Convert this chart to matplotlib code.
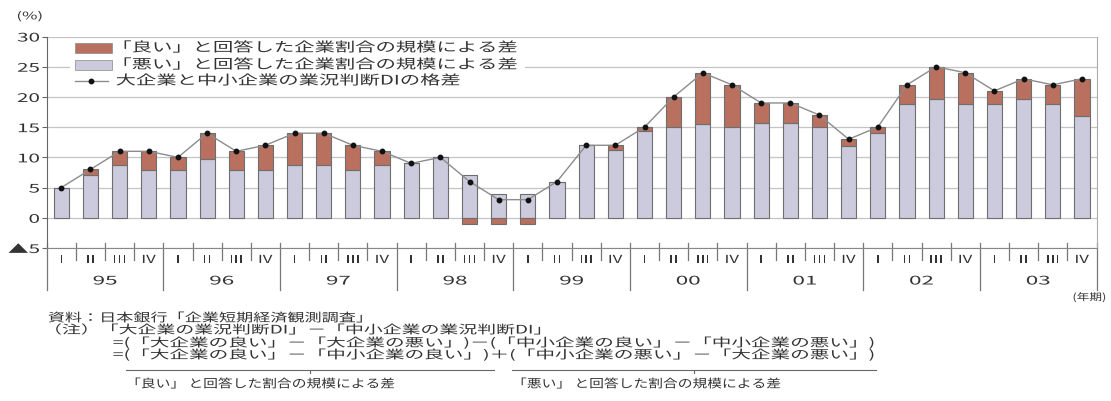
import numpy as np
import matplotlib
matplotlib.use("Agg")
import matplotlib.pyplot as plt
import matplotlib.patheffects as pe
from matplotlib.patches import Rectangle
from matplotlib.lines import Line2D
from matplotlib.transforms import Affine2D, blended_transform_factory

plt.rcParams['font.family'] = ['Noto Sans CJK JP', 'DejaVu Sans']

years = ['95', '96', '97', '98', '99', '00', '01', '02', '03']
quarters = ['I', 'II', 'III', 'IV']

# 「悪い」と回答した企業割合の規模による差 (%pt)
bad_gap = [5, 7, 8.7, 7.9, 7.9, 9.8, 7.9, 7.9, 8.7, 8.7, 7.9, 8.7,
           9, 10, 7, 4, 4, 6, 12, 11.2, 14.3, 15, 15.6, 15,
           15.7, 15.7, 15, 11.8, 14, 18.8, 19.7, 18.8, 18.8, 19.7, 18.8, 16.8]
# 「良い」と回答した企業割合の規模による差 (%pt)
good_gap = [0, 1, 2.3, 3.1, 2.1, 4.2, 3.1, 4.1, 5.3, 5.3, 4.1, 2.3,
            0, 0, -1, -1, -1, 0, 0, 0.8, 0.7, 5, 8.4, 7,
            3.3, 3.3, 2, 1.2, 1, 3.2, 5.3, 5.2, 2.2, 3.3, 3.2, 6.2]

yticks = [-5, 0, 5, 10, 15, 20, 25, 30]
ytick_labels = ['▲5', '0', '5', '10', '15', '20', '25', '30']

legend_labels = ['「良い」と回答した企業割合の規模による差',
                 '「悪い」と回答した企業割合の規模による差',
                 '大企業と中小企業の業況判断DIの格差']

notes = ['資料：日本銀行「企業短期経済観測調査」',
         '（注）「大企業の業況判断DI」－「中小企業の業況判断DI」',
         '=(「大企業の良い」－「大企業の悪い」)－(「中小企業の良い」－「中小企業の悪い」)',
         '=(「大企業の良い」－「中小企業の良い」)＋(「中小企業の悪い」－「大企業の悪い」)']
brace_labels = ['「良い」 と回答した割合の規模による差',
                '「悪い」 と回答した割合の規模による差']

RED = '#b9705f'
GRAY = '#cbcbdd'
EDGE = '#6e6e6e'

W, H = 1111, 401


class Stretch(pe.AbstractPathEffect):
    """Widen glyphs horizontally, keeping the left, centre or right edge fixed."""

    def __init__(self, sx, anchor='left'):
        super().__init__()
        self.sx = sx
        self.anchor = anchor

    def draw_path(self, renderer, gc, tpath, affine, rgbFace=None):
        ext = tpath.get_extents()
        ref = {'left': ext.x0, 'center': (ext.x0 + ext.x1) / 2,
               'right': ext.x1}[self.anchor]
        cx = affine.transform((ref, 0))[0]
        wide = affine + Affine2D().translate(-cx, 0).scale(self.sx, 1).translate(cx, 0)
        renderer.draw_path(gc, tpath, Affine2D(wide.get_matrix()), rgbFace)


def fx(x):
    return x / W


def fy(y):
    return 1 - y / H


def put_text(x, y, s, size, sx, ha='left', **kw):
    fig.text(fx(x), fy(y), s, fontsize=size, ha=ha, va='center',
             path_effects=[Stretch(sx, ha)], **kw)


fig = plt.figure(figsize=(W / 100, H / 100), dpi=100)
ax = fig.add_axes([fx(46.7), fy(248), (1096.5 - 46.7) / W, (248 - 36.5) / H])

x = np.arange(len(bad_gap))
bad = np.array(bad_gap)
good = np.array(good_gap)
di_gap = bad + good

ax.bar(x, bad, width=0.52, color=GRAY, edgecolor=EDGE, linewidth=0.8, zorder=2)
ax.bar(x, good, width=0.52, bottom=np.where(good >= 0, bad, 0),
       color=RED, edgecolor=EDGE, linewidth=0.8, zorder=2)
ax.plot(x, di_gap, color='#8c8c8c', lw=1.0, zorder=3)
ax.plot(x, di_gap, 'o', ms=3.2, color='#111111', zorder=4)

ax.set_xlim(-0.5, len(x) - 0.5)
ax.set_ylim(-5, 30)
ax.set_xticks([])
ax.set_yticks(yticks)
ax.set_yticklabels(ytick_labels, fontsize=8.5, color='#333333')
for t in ax.get_yticklabels():
    t.set_path_effects([Stretch(1.75, 'right')])
ax.tick_params(axis='y', direction='out', length=3.6, width=0.8,
               color='#666666', pad=1.5)
ax.grid(axis='y', color='#c4c4c4', lw=0.9, zorder=0)
ax.spines['top'].set_visible(False)
ax.spines['left'].set_color('#666666')
ax.spines['bottom'].set_color('#888888')
ax.spines['right'].set_color('#aaaaaa')

# category axis below the plot: quarter ticks, year dividers and labels
trans = blended_transform_factory(ax.transData, fig.transFigure)
for i, b in enumerate(np.arange(-0.5, len(x), 1.0)):
    bottom = fy(290) if i % 4 == 0 else fy(260)
    ax.add_line(Line2D([b, b], [bottom, fy(243)], transform=trans,
                       color='#777777', lw=0.9, clip_on=False))
for i in x:
    ax.text(i, fy(260), quarters[i % 4], transform=trans, ha='center',
            va='center', fontsize=8, color='#333333',
            path_effects=[Stretch(1.5, 'center')])
for j, yr in enumerate(years):
    ax.text(4 * j + 1.5, fy(281), yr, transform=trans, ha='center',
            va='center', fontsize=8.5, color='#333333',
            path_effects=[Stretch(1.9, 'center')])

put_text(17, 16, '(%)', 7.5, 1.6, color='#333333')
put_text(1106, 297, '(年期)', 7, 1.3, ha='right', color='#333333')

# legend
fig.add_artist(Rectangle((fx(70), fy(90)), 455 / W, 50 / H, transform=fig.transFigure,
                         facecolor='white', edgecolor='none', zorder=1))
rows = [48, 65, 81]
for y0, col in zip(rows[:2], [RED, GRAY]):
    fig.add_artist(Rectangle((fx(75), fy(y0 + 5)), 37 / W, 10 / H,
                             transform=fig.transFigure, facecolor=col,
                             edgecolor='#888888', lw=0.5, zorder=2))
fig.add_artist(Line2D([fx(75), fx(108)], [fy(rows[2]), fy(rows[2])],
                      transform=fig.transFigure, color='#8c8c8c', lw=1.0, zorder=2))
fig.add_artist(Line2D([fx(91)], [fy(rows[2])], transform=fig.transFigure,
                      marker='o', ms=3.2, color='#111111', zorder=3))
for y0, s in zip(rows, legend_labels):
    put_text(116, y0, s, 9.5, 1.54, color='#333333', zorder=3)

# notes under the chart
put_text(48, 318, notes[0], 8.5, 1.45, color='#333333')
put_text(48, 330, notes[1], 8.5, 1.6, color='#333333')
put_text(113, 343, notes[2], 8.5, 1.66, color='#333333')
put_text(113, 355, notes[3], 8.5, 1.66, color='#333333')

for x0, x1 in [(126, 494), (512, 876)]:
    fig.add_artist(Line2D([fx(x0), fx(x1)], [fy(370), fy(370)],
                          transform=fig.transFigure, color='#666666', lw=0.8))
    mid = (x0 + x1) / 2
    fig.add_artist(Line2D([fx(mid), fx(mid)], [fy(370), fy(373)],
                          transform=fig.transFigure, color='#666666', lw=0.8))
put_text(128, 384, brace_labels[0], 8.5, 1.25, color='#333333')
put_text(514, 384, brace_labels[1], 8.5, 1.25, color='#333333')

fig.savefig('out.png', dpi=100)
